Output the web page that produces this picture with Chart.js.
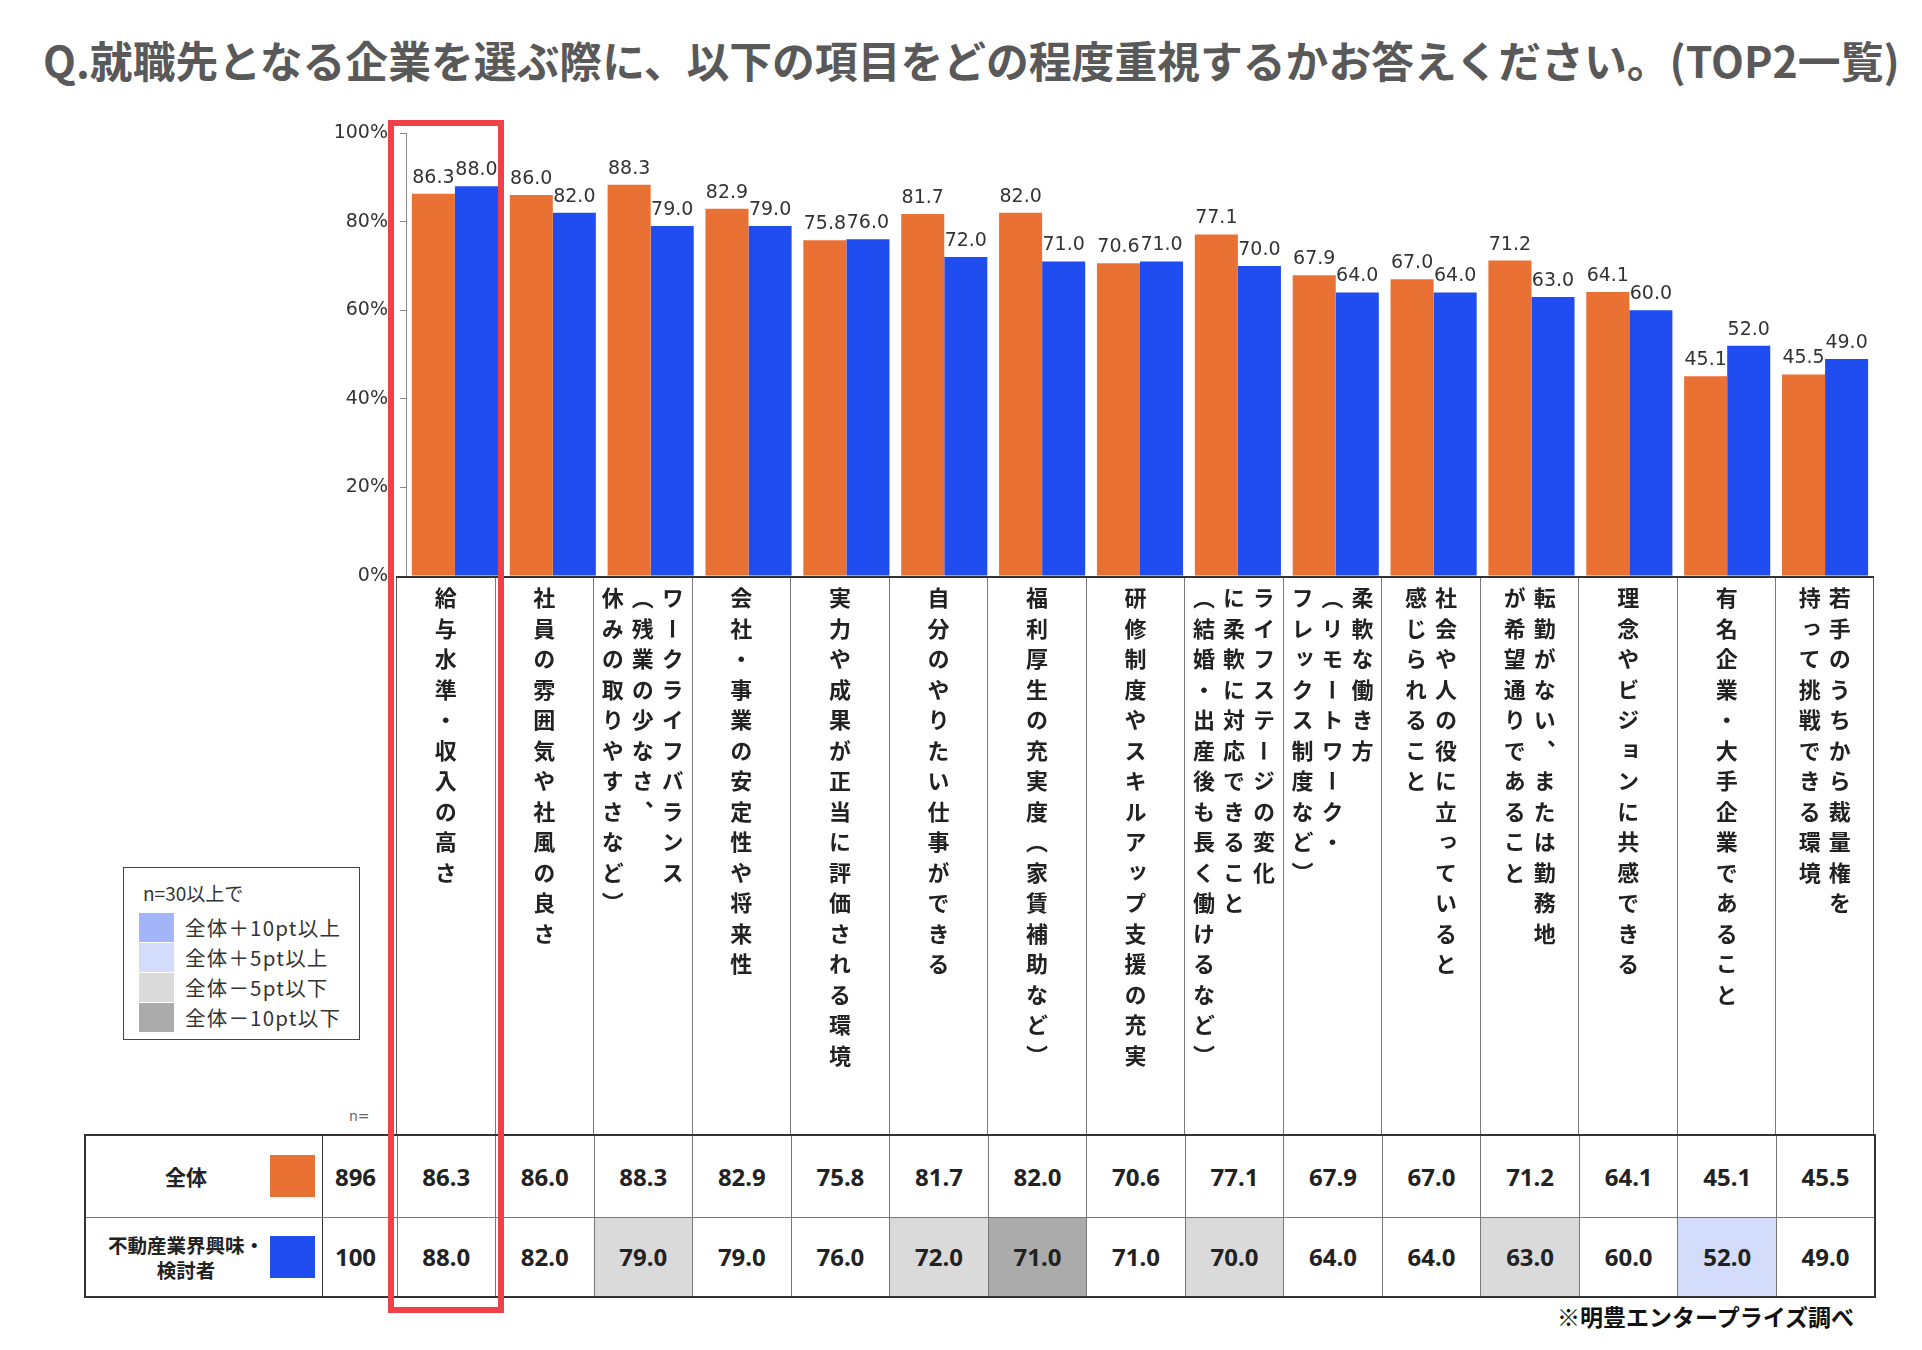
<!DOCTYPE html>
<html lang="ja">
<head>
<meta charset="utf-8">
<title>就職先企業選びで重視する項目</title>
<script src="https://cdn.jsdelivr.net/npm/chart.js@4.4.1/dist/chart.umd.min.js"></script>
<style>
  body { margin: 0; background: #fff; }
  #page { position: relative; width: 1922px; height: 1350px; overflow: hidden; background: #fff;
          font-family: "Noto Sans CJK JP", "Noto Sans", sans-serif; }
  #title { position: absolute; left: 43px; top: 35px; font-size: 42.8px; line-height: 48px; font-weight: 700;
           color: #595959; white-space: nowrap; }
  #chart { position: absolute; left: 300px; top: 100px; }
  #labels { position: absolute; left: 396px; top: 576px; width: 1478px; height: 558px;
            border-top: 2px solid #333; box-sizing: border-box; }
  .lab { position: absolute; top: 0; height: 100%; box-sizing: border-box; border-left: 1px solid #7a7a7a;
         display: flex; justify-content: center; }
  .lab.last { border-right: 1px solid #555; }
  .lab.first { border-left: 1px solid #555; }
  .lab span { writing-mode: vertical-rl; font-size: 22px; font-weight: 700; letter-spacing: 8.5px;
              line-height: 30px; color: #222; margin-top: 9px; }
  #nlabel { position: absolute; left: 349px; top: 1108px; font-size: 14px; color: #666; font-family: "DejaVu Sans", sans-serif; }
  #table { position: absolute; left: 84px; top: 1134px; border-collapse: collapse; table-layout: fixed; }
  #table td { border: 1px solid #777; text-align: center; font-family: "Noto Sans", sans-serif;
              font-weight: 700; font-size: 24px; color: #222; padding: 0; }
  #table td.n { padding-right: 8px; }
  #table { border: 2px solid #333; }
  #table tr:first-child td { border-bottom: 1.5px solid #333; }
  #table td.name { font-family: "Noto Sans CJK JP", sans-serif; font-size: 21px; border-right: 1.5px solid #333; position: relative; }
  #table td.name div { position: absolute; left: 0; width: 200px; top: 50%; transform: translateY(-50%);
                       text-align: center; line-height: 25px; }
  #table td.name.small div { font-size: 19.5px; }
  #table td.name i { position: absolute; left: 184px; width: 45px; height: 42px; top: 50%; transform: translateY(-50%); }
  #legend { position: absolute; left: 123px; top: 867px; width: 237px; height: 173px; border: 1.5px solid #444;
            box-sizing: border-box; font-size: 19px; color: #333; }
  #legend .head { position: absolute; left: 19px; top: 11px; }
  #legend .row { position: absolute; left: 15px; height: 29px; }
  #legend .row i { position: absolute; left: 0; top: 0; width: 35px; height: 29px; }
  #legend .row b { position: absolute; left: 46px; top: 0; font-weight: 400; white-space: nowrap; line-height: 29px;
                   font-size: 20.5px; letter-spacing: 1.2px; }
  #highlight { position: absolute; left: 388px; top: 120px; width: 116px; height: 1193px; border: 6px solid #ef4147;
               box-sizing: border-box; }
  #source { position: absolute; right: 68px; top: 1300px; font-size: 23px; font-weight: 700; color: #111; line-height: 32px; }
</style>
</head>
<body>
<div id="page">
  <div id="title">Q.就職先となる企業を選ぶ際に、以下の項目をどの程度重視するかお答えください。(TOP2一覧)</div>
  <canvas id="chart" width="1600" height="500"></canvas>
  <div id="labels"></div>
  <div id="nlabel">n=</div>
  <table id="table"></table>
  <div id="legend"></div>
  <div id="highlight"></div>
  <div id="source">※明豊エンタープライズ調べ</div>
</div>
<script>
// categories, one array of lines per column (vertical text, read right to left)
const categories = [
  ['給与水準・収入の高さ'],
  ['社員の雰囲気や社風の良さ'],
  ['ワークライフバランス', '（残業の少なさ、', '休みの取りやすさなど）'],
  ['会社・事業の安定性や将来性'],
  ['実力や成果が正当に評価される環境'],
  ['自分のやりたい仕事ができる'],
  ['福利厚生の充実度（家賃補助など）'],
  ['研修制度やスキルアップ支援の充実'],
  ['ライフステージの変化', 'に柔軟に対応できること', '（結婚・出産後も長く働けるなど）'],
  ['柔軟な働き方', '（リモートワーク・', 'フレックス制度など）'],
  ['社会や人の役に立っていると', '感じられること'],
  ['転勤がない、または勤務地', 'が希望通りであること'],
  ['理念やビジョンに共感できる'],
  ['有名企業・大手企業であること'],
  ['若手のうちから裁量権を', '持って挑戦できる環境']
];

const seriesNames = ['全体', '不動産業界興味・検討者'];
const seriesN = [896, 100];
const allValues = [86.3, 86.0, 88.3, 82.9, 75.8, 81.7, 82.0, 70.6, 77.1, 67.9, 67.0, 71.2, 64.1, 45.1, 45.5];
const realEstateValues = [88.0, 82.0, 79.0, 79.0, 76.0, 72.0, 71.0, 71.0, 70.0, 64.0, 64.0, 63.0, 60.0, 52.0, 49.0];
const yTicks = [0, 20, 40, 60, 80, 100];

const legendLabels = ['全体＋10pt以上', '全体＋5pt以上', '全体－5pt以下', '全体－10pt以下'];
const legendColors = ['#a1b5f8', '#d3ddfb', '#dadada', '#ababab'];
const orange = '#e87133';
const blue = '#1f4df0';

// value labels above each bar
const valueLabels = {
  id: 'valueLabels',
  afterDatasetsDraw(chart) {
    const ctx = chart.ctx;
    ctx.save();
    ctx.font = '19px "DejaVu Sans", sans-serif';
    ctx.fillStyle = '#333';
    ctx.textAlign = 'center';
    ctx.textBaseline = 'alphabetic';
    chart.data.datasets.forEach((ds, d) => {
      chart.getDatasetMeta(d).data.forEach((bar, i) => {
        ctx.fillText(ds.data[i].toFixed(1), bar.x, bar.y - 11);
      });
    });
    ctx.restore();
  }
};

new Chart(document.getElementById('chart'), {
  type: 'bar',
  data: {
    labels: categories.map(c => c.join('')),
    datasets: [
      { label: seriesNames[0], data: allValues, backgroundColor: orange },
      { label: seriesNames[1], data: realEstateValues, backgroundColor: blue }
    ]
  },
  options: {
    responsive: false,
    animation: false,
    devicePixelRatio: 1,
    categoryPercentage: 0.88,
    barPercentage: 1.0,
    layout: { padding: { top: 33, bottom: 24, right: 26, left: 0 } },
    plugins: { legend: { display: false }, tooltip: { enabled: false } },
    scales: {
      x: { display: false },
      y: {
        min: 0, max: 100,
        afterBuildTicks: s => { s.ticks = yTicks.map(v => ({ value: v })); },
        afterFit: s => { s.width = 106; },
        ticks: {
          callback: v => v + '%',
          font: { family: '"DejaVu Sans", sans-serif', size: 19 },
          color: '#333',
          padding: 12
        },
        grid: { drawOnChartArea: false, tickLength: 6, color: '#888' },
        border: { color: '#888' }
      }
    }
  },
  plugins: [valueLabels]
});

// category label columns under the chart
const labelsBox = document.getElementById('labels');
const colW = 1478 / categories.length;
categories.forEach((lines, i) => {
  const cell = document.createElement('div');
  cell.className = 'lab' + (i === 0 ? ' first' : '') + (i === categories.length - 1 ? ' last' : '');
  cell.style.left = (i * colW) + 'px';
  cell.style.width = colW + 'px';
  const span = document.createElement('span');
  span.innerHTML = lines.join('<br>');
  cell.appendChild(span);
  labelsBox.appendChild(cell);
});

// data table
const table = document.getElementById('table');
const cg = document.createElement('colgroup');
[237, 75].concat(categories.map(() => colW)).forEach(w => {
  const c = document.createElement('col');
  c.style.width = w + 'px';
  cg.appendChild(c);
});
table.appendChild(cg);

function shade(diff) {
  if (diff >= 10) return legendColors[0];
  if (diff >= 5) return legendColors[1];
  if (diff <= -10) return legendColors[3];
  if (diff <= -5) return legendColors[2];
  return '';
}

[[allValues, orange, 82], [realEstateValues, blue, 80]].forEach(([vals, color, h], r) => {
  const tr = document.createElement('tr');
  tr.style.height = h + 'px';
  const name = document.createElement('td');
  name.className = 'name' + (r === 1 ? ' small' : '');
  const txt = document.createElement('div');
  txt.innerHTML = r === 0 ? seriesNames[0] : '不動産業界興味・<br>検討者';
  const sw = document.createElement('i');
  sw.style.background = color;
  name.appendChild(txt);
  name.appendChild(sw);
  tr.appendChild(name);
  const n = document.createElement('td');
  n.className = 'n';
  n.textContent = seriesN[r];
  tr.appendChild(n);
  vals.forEach((v, i) => {
    const td = document.createElement('td');
    td.textContent = v.toFixed(1);
    if (r === 1 && seriesN[1] >= 30) td.style.background = shade(v - allValues[i]);
    tr.appendChild(td);
  });
  table.appendChild(tr);
});

// shading legend
const legend = document.getElementById('legend');
legend.innerHTML = '<div class="head">n=30以上で</div>';
legendLabels.forEach((t, i) => {
  const row = document.createElement('div');
  row.className = 'row';
  row.style.top = (45 + i * 30) + 'px';
  row.innerHTML = '<i style="background:' + legendColors[i] + '"></i><b>' + t + '</b>';
  legend.appendChild(row);
});
</script>
</body>
</html>
